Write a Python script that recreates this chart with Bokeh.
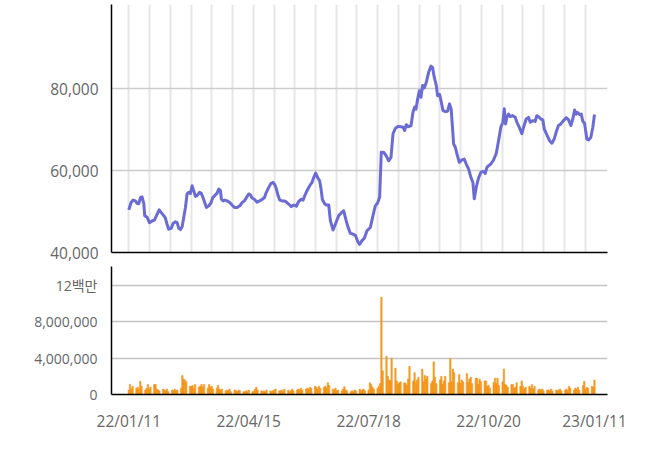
import pandas as pd
from bokeh.plotting import figure
from bokeh.layouts import column
from bokeh.models import Range1d, FixedTicker, DatetimeTickFormatter, NumeralTickFormatter, ColumnDataSource
from bokeh.embed import file_html
from bokeh.resources import INLINE

START = pd.Timestamp("2022-01-11")
END = pd.Timestamp("2023-01-11")

# price line: day offset from START, closing price (won)
price_day = [0.0, 1.8, 3.4, 5.2, 6.5, 7.8, 9.1, 10.4, 11.8, 12.5, 14.4, 16.2, 18.3, 20.1, 21.7, 23.8,
             25.3, 27.4, 28.7, 30.0, 31.3, 33.2, 34.7, 36.6, 37.9, 39.2, 40.5, 41.8, 43.1, 44.4, 45.7,
             47.0, 48.3, 49.6, 50.9, 52.2, 53.5, 55.4, 56.7, 58.2, 59.5, 60.8, 62.7, 64.5, 65.8, 67.4,
             69.2, 70.5, 71.8, 72.6, 73.9, 75.2, 77.0, 79.1, 80.9, 82.8, 84.9, 87.0, 88.8, 90.6, 92.2,
             94.0, 95.3, 96.6, 98.4, 100.5, 102.6, 104.7, 106.3, 107.8, 109.7, 111.5, 113.1, 114.4,
             115.7, 117.0, 118.3, 120.1, 122.2, 124.0, 126.1, 127.4, 129.2, 131.3, 133.2, 135.0,
             136.6, 138.1, 139.7, 141.8, 143.6, 144.9, 146.5, 148.0, 149.6, 150.7, 151.7, 153.3,
             154.8, 156.7, 158.0, 160.1, 161.9, 164.5, 166.3, 168.4, 169.7, 171.5, 173.6, 175.7,
             177.6, 179.4, 180.9, 182.8, 184.6, 186.7, 189.3, 191.4, 193.2, 195.0, 196.6, 197.9,
             199.7, 201.8, 203.7, 205.5, 207.1, 208.9, 211.0, 213.3, 214.9, 216.2, 217.5, 219.3,
             221.2, 222.7, 224.0, 225.1, 226.4, 227.7, 229.0, 230.3, 231.6, 233.2, 235.0, 236.8,
             238.1, 239.4, 241.0, 242.0, 243.6, 244.7, 246.2, 248.0, 249.9, 251.4, 252.7, 254.6,
             255.9, 257.2, 259.0, 261.1, 262.9, 264.5, 266.3, 268.2, 269.7, 270.8, 272.3, 274.2,
             276.0, 278.1, 279.4, 280.7, 282.0, 283.8, 285.9, 288.0, 289.8, 291.6, 293.2, 294.3,
             295.3, 296.3, 297.7, 299.0, 301.0, 302.9, 304.2, 306.0, 308.1, 309.4, 311.5, 313.3,
             314.6, 316.7, 318.5, 319.8, 321.7, 323.0, 324.5, 325.6, 327.7, 329.8, 331.6, 333.4,
             335.0, 336.8, 338.6, 340.7, 342.8, 344.7, 346.5, 348.0, 349.4, 350.7, 351.7, 353.3,
             354.6, 355.9, 357.2, 359.0, 360.3, 362.1, 363.7, 365.0]
price = [50400, 52200, 52800, 52600, 52000, 51900, 53400, 53600, 51900, 49000, 48600, 47300, 47700,
         47900, 49000, 50400, 49800, 49000, 48400, 46900, 45700, 45900, 47100, 47500, 47300, 45900,
         45600, 46300, 48600, 51000, 54300, 54700, 54400, 56300, 55100, 53700, 53900, 54700, 54500,
         53400, 52200, 51000, 51400, 52200, 53400, 53900, 54500, 55500, 55100, 53000, 52600, 52800,
         52600, 52200, 51600, 51000, 51000, 51400, 52200, 52600, 53400, 54300, 54100, 53300, 53000,
         52300, 52600, 53000, 53400, 54700, 55900, 56900, 57100, 56600, 55500, 53900, 52800, 52600,
         52600, 52200, 51600, 51200, 51600, 51300, 52500, 53000, 52800, 54000, 55100, 56300, 57100,
         58300, 59400, 58300, 57500, 55500, 53000, 52000, 51600, 51600, 47800, 45500, 46900, 49000,
         49600, 50200, 48600, 46500, 44700, 44500, 44200, 42700, 42000, 42900, 43500, 45300, 46100,
         49000, 51400, 52100, 53500, 64500, 64500, 63600, 62400, 63200, 69000, 70300, 70800, 70700,
         70600, 69800, 71200, 70700, 71000, 74200, 75500, 75000, 77500, 79500, 77900, 80800, 80200,
         81600, 84000, 85500, 85200, 82800, 80800, 78300, 78600, 77100, 74700, 74400, 74500, 76300,
         75000, 66500, 65700, 64100, 62000, 62600, 62800, 61600, 60400, 58300, 57100, 53100, 55900,
         58300, 59600, 59800, 59300, 60800, 61200, 61600, 62600, 64200, 67300, 70600, 71800, 75100,
         71400, 73000, 73800, 73200, 73400, 73000, 71800, 70600, 69000, 70600, 72600, 73000, 71800,
         72200, 72000, 73400, 73000, 72600, 72400, 70200, 68700, 67300, 66700, 67700, 69400, 71000,
         71400, 72200, 72900, 72400, 71000, 72600, 74800, 73800, 74200, 73700, 73800, 72000, 71600,
         67700, 67500, 68100, 70600, 73700]

# weekly volume (millions of shares), trading days Tue Wed Thu Fri Mon
vol_weeks = [
    [0.5, 1.1, 0.6, 0.9, 0.7], [0.8, 0.6, 1.45, 0.9, 0.5], [0.7, 1.1, 0.6, 0.8, 1.1],
    [1.1, 0.6, 0.5, 0.4, 0.6], [0.5, 0.4, 0.6, 0.3, 0.5], [0.4, 0.6, 0.4, 0.5, 0.7],
    [2.1, 1.7, 1.6, 1.4, 0.9], [0.9, 1.0, 0.7, 1.1, 0.8], [0.9, 1.1, 0.8, 1.1, 0.7],
    [1.1, 0.8, 0.9, 0.6, 0.7], [1.0, 0.6, 0.5, 0.6, 0.4], [0.5, 0.4, 0.6, 0.3, 0.5],
    [0.4, 0.3, 0.5, 0.4, 0.3], [0.3, 0.4, 0.3, 0.5, 0.3], [0.4, 0.6, 0.8, 0.5, 0.4],
    [0.3, 0.4, 0.3, 0.5, 0.4], [0.3, 0.4, 0.5, 0.6, 0.4], [0.4, 0.5, 0.3, 0.6, 0.5],
    [0.3, 0.4, 0.6, 0.4, 0.5], [0.6, 0.5, 0.7, 0.5, 0.6], [0.7, 0.6, 0.8, 0.7, 0.9],
    [0.8, 0.6, 0.9, 0.7, 0.8], [0.9, 0.7, 1.3, 1.0, 0.6], [0.5, 0.7, 0.4, 0.5, 0.4],
    [0.6, 0.85, 0.5, 0.4, 0.3], [0.4, 0.3, 0.5, 0.4, 0.6], [0.4, 0.5, 0.6, 0.4, 0.5],
    [1.3, 1.1, 0.8, 0.6, 0.7], [0.9, 1.2, 10.7, 2.6, 4.2], [2.0, 1.6, 1.5, 4.0, 2.9],
    [1.5, 1.1, 1.3, 1.4, 1.3], [1.2, 1.0, 1.7, 3.1, 1.5], [2.4, 1.3, 1.6, 1.9, 2.8],
    [1.4, 2.1, 1.7, 2.0, 1.2], [1.5, 3.6, 1.9, 1.2, 1.6], [2.0, 1.1, 1.5, 2.0, 1.3],
    [3.95, 1.4, 2.8, 2.4, 1.3], [2.2, 1.2, 1.6, 1.4, 2.3], [1.3, 1.7, 1.9, 1.2, 1.8],
    [1.8, 1.1, 1.7, 1.4, 1.5], [1.5, 0.9, 1.0, 0.7, 1.3], [1.8, 1.2, 1.8, 1.0, 1.4],
    [2.8, 1.1, 1.0, 0.8, 1.1], [1.1, 0.7, 0.8, 1.3, 0.9], [1.5, 0.9, 0.6, 0.8, 0.9],
    [0.7, 1.1, 0.6, 0.9, 0.5], [0.6, 0.5, 0.6, 0.4, 0.5], [0.5, 0.4, 0.6, 0.4, 0.5],
    [0.4, 0.5, 0.6, 0.4, 0.5], [0.6, 0.4, 0.9, 0.7, 0.5], [0.7, 0.6, 0.8, 0.5, 1.0],
    [1.45, 0.6, 0.8, 0.7, 0.9], [0.8, 1.6],
]

x_tick_dates = ["2022-01-11", "2022-04-15", "2022-07-18", "2022-10-20", "2023-01-11"]
price_ticks = [40000, 60000, 80000]
vol_ticks = [0, 4000000, 8000000, 12000000]
vol_tick_labels = ["0", "4,000,000", "8,000,000", "12백만"]

FONT = "'Open Sans', 'Noto Sans CJK KR', sans-serif"
LABEL_COLOR = "#666666"
DAY_MS = 86400000.0
EPOCH = pd.Timestamp("1970-01-01")


def to_ms(ts):
    return (ts - EPOCH).total_seconds() * 1000.0


# trading-day positions inside each week (Tue, Wed, Thu, Fri, Mon)
week_offsets = [0, 1, 2, 3, 6]
vol_dates, vol_vals = [], []
for k, wk in enumerate(vol_weeks):
    for j, v in enumerate(wk):
        vol_dates.append(START + pd.Timedelta(days=7 * k + week_offsets[j]))
        vol_vals.append(v * 1e6)

price_dates = [START + pd.Timedelta(days=d) for d in price_day]

xr = Range1d(to_ms(START) - 13.55 * DAY_MS, to_ms(START) + 375.2 * DAY_MS)
label_ticks = [to_ms(pd.Timestamp(d)) for d in x_tick_dates]
grid_step = 16.26
grid_ticks = [to_ms(START) + k * grid_step * DAY_MS for k in range(23)]

fmt = "%y/%m/%d"
dt_fmt = DatetimeTickFormatter(microseconds=fmt, milliseconds=fmt, seconds=fmt, minsec=fmt,
                               minutes=fmt, hourmin=fmt, hours=fmt, days=fmt, months=fmt, years=fmt)

# ---------- price panel ----------
p1 = figure(frame_width=496, frame_height=248, x_range=xr, y_range=Range1d(40000, 100560),
            x_axis_type="datetime", min_border_left=111, min_border_right=40,
            min_border_top=4, min_border_bottom=14, output_backend="svg", toolbar_location=None)
p1.outline_line_color = None
p1.background_fill_color = "white"
p1.line(x=price_dates, y=price, line_width=3, line_color="#6b6bd6", line_join="round")

p1.yaxis.ticker = FixedTicker(ticks=price_ticks)
p1.yaxis.formatter = NumeralTickFormatter(format="0,0")
p1.yaxis.major_label_text_font = FONT
p1.yaxis.major_label_text_font_size = "15.5px"
p1.yaxis.major_label_text_color = LABEL_COLOR
p1.yaxis.major_label_standoff = 13
# bottom axis of the price panel: line only, no labels
p1.xaxis.ticker = FixedTicker(ticks=[], minor_ticks=[])
p1.xaxis.major_label_standoff = 0
for ax in (p1.xaxis, p1.yaxis):
    ax.major_tick_line_color = None
    ax.minor_tick_line_color = None
    ax.axis_line_color = "black"
    ax.axis_line_width = 1.5
    ax.major_tick_out = 0
    ax.minor_tick_out = 0
p1.ygrid.grid_line_color = "#cccccc"
p1.ygrid.grid_line_width = 1.5
p1.xgrid.ticker = FixedTicker(ticks=grid_ticks)
p1.xgrid.grid_line_color = "#e6e6e6"
p1.xgrid.grid_line_width = 2

# ---------- volume panel ----------
p2 = figure(frame_width=496, frame_height=128, x_range=xr, y_range=Range1d(0, 14.1e6),
            x_axis_type="datetime", min_border_left=111, min_border_right=40,
            min_border_top=0, min_border_bottom=50, output_backend="svg", toolbar_location=None)
p2.outline_line_color = None
src = ColumnDataSource(dict(x=vol_dates, top=vol_vals))
p2.vbar(x="x", top="top", width=1.1 * DAY_MS, source=src, fill_color="#fba21f",
        line_color="#ec8710", line_width=0.5)

p2.yaxis.ticker = FixedTicker(ticks=vol_ticks)
p2.yaxis.major_label_overrides = {t: lab for t, lab in zip(vol_ticks, vol_tick_labels)}
p2.yaxis.major_label_text_font = FONT
p2.yaxis.major_label_text_font_size = "14px"
p2.yaxis.major_label_text_color = LABEL_COLOR
p2.yaxis.major_label_standoff = 14
p2.xaxis.ticker = FixedTicker(ticks=label_ticks)
p2.xaxis.formatter = dt_fmt
p2.xaxis.major_label_text_font = FONT
p2.xaxis.major_label_text_font_size = "15.5px"
p2.xaxis.major_label_text_color = LABEL_COLOR
p2.xaxis.major_label_standoff = 15
for ax in (p2.xaxis, p2.yaxis):
    ax.major_tick_line_color = None
    ax.minor_tick_line_color = None
    ax.axis_line_color = "black"
    ax.axis_line_width = 1.5
    ax.major_tick_out = 0
p2.xgrid.visible = False
p2.ygrid.grid_line_color = "#c4c4c4"
p2.ygrid.grid_line_width = 1.5

layout = column(p1, p2, spacing=0)
open("out.html", "w").write(file_html(layout, INLINE))
